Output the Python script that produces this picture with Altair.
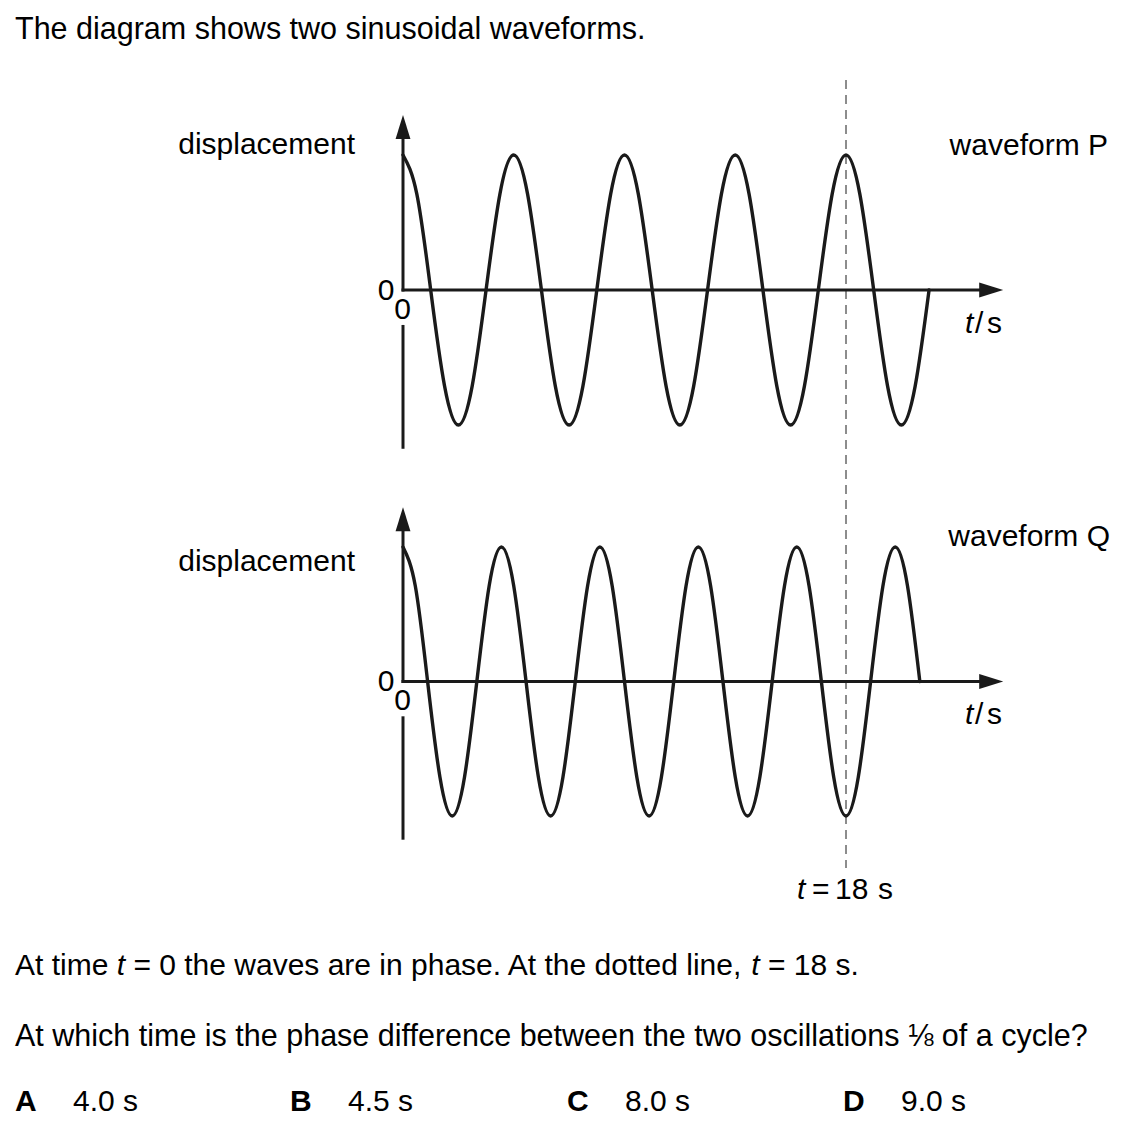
import altair as alt
import pandas as pd

# ---------------- data ----------------
# waveform P: period 4.5 s, starts at a crest, ends at a zero crossing (21.375 s)
P_TIME = [0, 0.5625, 1.125, 1.6875, 2.25, 2.8125, 3.375, 3.9375,
          4.5, 5.0625, 5.625, 6.1875, 6.75, 7.3125, 7.875, 8.4375,
          9, 9.5625, 10.125, 10.6875, 11.25, 11.8125, 12.375, 12.9375,
          13.5, 14.0625, 14.625, 15.1875, 15.75, 16.3125, 16.875, 17.4375,
          18, 18.5625, 19.125, 19.6875, 20.25, 20.8125, 21.375]
P_DISP = [1, 0.71, 0, -0.71, -1, -0.71, 0, 0.71,
          1, 0.71, 0, -0.71, -1, -0.71, 0, 0.71,
          1, 0.71, 0, -0.71, -1, -0.71, 0, 0.71,
          1, 0.71, 0, -0.71, -1, -0.71, 0, 0.71,
          1, 0.71, 0, -0.71, -1, -0.71, 0]
# waveform Q: period 4.0 s, starts at a crest, ends at a zero crossing (21 s)
Q_TIME = [0, 0.5, 1, 1.5, 2, 2.5, 3, 3.5,
          4, 4.5, 5, 5.5, 6, 6.5, 7, 7.5,
          8, 8.5, 9, 9.5, 10, 10.5, 11, 11.5,
          12, 12.5, 13, 13.5, 14, 14.5, 15, 15.5,
          16, 16.5, 17, 17.5, 18, 18.5, 19, 19.5,
          20, 20.5, 21]
Q_DISP = [1, 0.71, 0, -0.71, -1, -0.71, 0, 0.71,
          1, 0.71, 0, -0.71, -1, -0.71, 0, 0.71,
          1, 0.71, 0, -0.71, -1, -0.71, 0, 0.71,
          1, 0.71, 0, -0.71, -1, -0.71, 0, 0.71,
          1, 0.71, 0, -0.71, -1, -0.71, 0, 0.71,
          1, 0.71, 0]
MARKER_TIME = [18]

# axis decoration extents (in data units)
AXIS_T_END = 23.9      # horizontal axis end (arrow centre)
AXIS_D_TOP = 1.207     # vertical axis top (arrow centre)
AXIS_D_GAP = -0.27     # vertical axis resumes below the "0" label
AXIS_D_BOTTOM = -1.165

INK = "#1a1a1a"
FONT = "Liberation Sans, Arial, Helvetica, sans-serif"
FS = 30
FS_BODY = 30.5
OFF = 8  # page margin

X_SCALE = alt.Scale(domain=[0, 18], range=[395, 838], nice=False, zero=False)
P_RANGE = [417, 147]
Q_RANGE = [808, 539]


def xenc(field="t"):
    return alt.X(f"{field}:Q", scale=X_SCALE, axis=None)


def yenc(rng, field="d"):
    return alt.Y(f"{field}:Q", scale=alt.Scale(domain=[-1, 1], range=rng, nice=False, zero=False), axis=None)


def panel(times, disps, rng):
    wave = alt.Chart(pd.DataFrame({"t": times, "d": disps})).mark_line(
        interpolate="natural", strokeWidth=3.4, color=INK, strokeCap="round"
    ).encode(x=xenc(), y=yenc(rng))

    segs = pd.DataFrame({
        "t": [0, 0, 0],
        "t2": [AXIS_T_END, 0, 0],
        "d": [0, 0, AXIS_D_GAP],
        "d2": [0, AXIS_D_TOP, AXIS_D_BOTTOM],
    })
    axes = alt.Chart(segs).mark_rule(strokeWidth=3, color=INK, strokeCap="square").encode(
        x=xenc(), x2="t2:Q", y=yenc(rng), y2="d2:Q"
    )
    up = alt.Chart(pd.DataFrame({"t": [0], "d": [AXIS_D_TOP]})).mark_point(
        shape="M0,-1L-0.62,1L0.62,1Z", size=576, filled=True, color=INK, opacity=1, strokeWidth=0
    ).encode(x=xenc(), y=yenc(rng))
    right = alt.Chart(pd.DataFrame({"t": [AXIS_T_END], "d": [0]})).mark_point(
        shape="M1,0L-1,-0.62L-1,0.62Z", size=576, filled=True, color=INK, opacity=1, strokeWidth=0
    ).encode(x=xenc(), y=yenc(rng))
    return alt.layer(wave, axes, up, right)


def txt(s, x, y, align="left", italic=False, bold=False, size=FS):
    return alt.Chart().mark_text(
        text=s, align=align, baseline="alphabetic", font=FONT, fontSize=size,
        fontStyle="italic" if italic else "normal",
        fontWeight="bold" if bold else "normal", color="#000"
    ).encode(x=alt.value(x - OFF), y=alt.value(y - OFF))


# Arial advance widths (1/1000 em) for placing inline italic segments
W = {" ": 278, "A": 667, "t": 278, "i": 222, "m": 833, "e": 556, "=": 584, "0": 556,
     "h": 556, "w": 722, "a": 556, "v": 500, "s": 500, "r": 333, "n": 556, "p": 556,
     ".": 278, "d": 556, "o": 556, "l": 222, ",": 278, "1": 556, "8": 556}


def width(s, size):
    return sum(W.get(c, 556) for c in s) * size / 1000.0


texts = []
texts.append(txt("The diagram shows two sinusoidal waveforms.", 15, 39, size=FS_BODY))

# panel labels
texts.append(txt("displacement", 355, 154, align="right"))
texts.append(txt("displacement", 355, 571, align="right"))
texts.append(txt("waveform P", 1108, 155, align="right"))
texts.append(txt("waveform Q", 1110, 546, align="right"))
for base in (0, 391):
    texts.append(txt("0", 386, 300 + base, align="center"))
    texts.append(txt("0", 402.5, 319 + base, align="center"))
    texts.append(txt("t", 965, 333 + base, italic=True))
    texts.append(txt("/", 975, 333 + base))
    texts.append(txt("s", 987, 333 + base))

# t = 18 s label
texts.append(txt("t", 797, 899, italic=True))
texts.append(txt("=", 812, 899))
texts.append(txt("18", 835, 899))
texts.append(txt("s", 878, 899))

# question text (inline italic t); leading spaces are advanced manually
segs = [("At time ", False), ("t", True), (" = 0 the waves are in phase. At the dotted line, ", False),
        ("t", True), (" = 18 s.", False)]
x = 15.0
for s, it in segs:
    lead = len(s) - len(s.lstrip(" "))
    texts.append(txt(s.strip(" "), x + width(" " * lead, FS), 975, italic=it, size=FS))
    x += width(s, FS)

texts.append(txt("At which time is the phase difference between the two oscillations \u215b of a cycle?",
                 15, 1046, size=FS_BODY))

OPTIONS = [("A", "4.0 s", 15), ("B", "4.5 s", 290), ("C", "8.0 s", 567), ("D", "9.0 s", 843)]
for letter, val, x0 in OPTIONS:
    texts.append(txt(letter, x0, 1111, bold=True))
    texts.append(txt(val, x0 + 58, 1111))

dashed = alt.Chart(pd.DataFrame({"t": MARKER_TIME})).mark_rule(
    strokeWidth=1, color=INK, strokeDash=[9, 6]
).encode(x=xenc(), y=alt.value(80 - OFF), y2=alt.value(868 - OFF))

chart = alt.layer(
    dashed,
    panel(P_TIME, P_DISP, P_RANGE),
    panel(Q_TIME, Q_DISP, Q_RANGE),
    *texts,
).resolve_scale(y="independent").properties(
    width=1112, height=1109, padding=0,
    autosize=alt.AutoSizeParams(type="none"),
    background="white",
).configure_view(strokeWidth=0)

chart.save("out.html", embed_options={"renderer": "svg", "actions": False})
